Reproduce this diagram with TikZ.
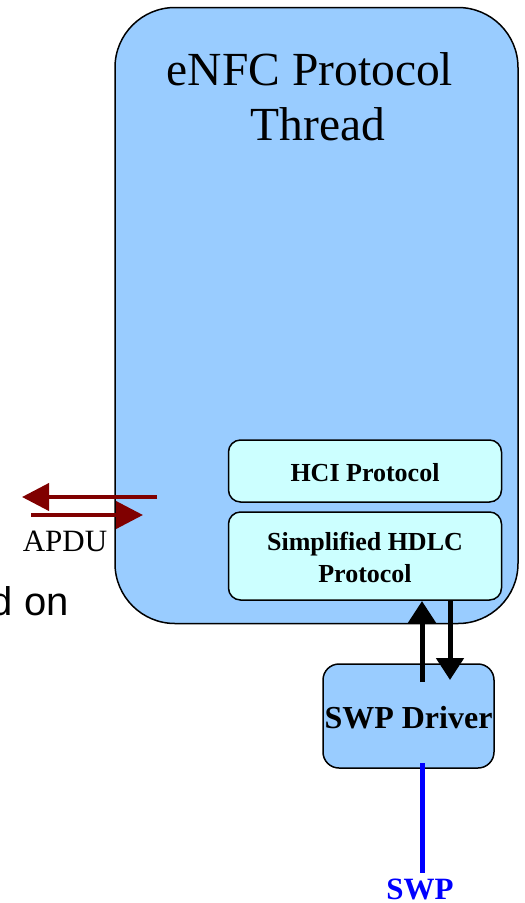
\documentclass[tikz,border=0pt]{standalone}
\usepackage{fontspec}
\setmainfont{Liberation Serif}
\newfontfamily\arialf{Liberation Sans}
\usetikzlibrary{arrows.meta}
\definecolor{boxblue}{HTML}{99CCFF}
\definecolor{boxcyan}{HTML}{CCFFFF}
\definecolor{apdured}{HTML}{800000}
\begin{document}
\begin{tikzpicture}[x=1pt,y=-1pt,
  bigbox/.style={draw=black, line width=1.5pt, fill=boxblue, rounded corners=60pt, inner sep=0pt},
  protobox/.style={draw=black, line width=1.5pt, fill=boxcyan, rounded corners=12pt, inner sep=0pt, minimum width=273pt, align=center, font=\fontsize{26}{32}\selectfont\bfseries},
  drvbox/.style={draw=black, line width=1.5pt, fill=boxblue, rounded corners=16pt, inner sep=0pt, minimum width=171pt, minimum height=104pt, font=\fontsize{32}{36}\selectfont\bfseries},
  redarrow/.style={draw=apdured, line width=4pt, -{Triangle[length=27pt,width=27pt]}},
  blackarrow/.style={draw=black, line width=5pt, -{Triangle[length=22pt,width=27pt]}},
  label/.style={inner sep=0pt, anchor=base}
]
\useasboundingbox (0,0) rectangle (525,903);
\node[bigbox, minimum width=403pt, minimum height=616pt] (thread) at (316.5,315.5) {};
\node[label, font=\fontsize{47.5}{55}\selectfont] (t1) at (310,85) {eNFC Protocol};
\node[label, font=\fontsize{47.5}{55}\selectfont] (t2) at (318,140) {Thread};
\node[protobox, minimum height=62pt] (hci) at (365,471) {};
\node[label, font=\fontsize{26}{32}\selectfont\bfseries] (hcit) at (365,481) {HCI Protocol};
\node[protobox, minimum height=88pt] (hdlc) at (365,556) {};
\node[label, font=\fontsize{26}{32}\selectfont\bfseries] (hdlc1) at (365,550) {Simplified HDLC};
\node[label, font=\fontsize{26}{32}\selectfont\bfseries] (hdlc2) at (365,582) {Protocol};
\node[drvbox] (drv) at (408.5,716) {};
\node[label, font=\fontsize{32}{36}\selectfont\bfseries] (drvt) at (408.5,728) {SWP Driver};
% black arrows
\coordinate (upS) at (422,682);
\coordinate (upE) at (422,601);
\coordinate (dnS) at (450,601);
\coordinate (dnE) at (450,680);
\draw[blackarrow] (upS) -- (upE);
\draw[blackarrow] (dnS) -- (dnE);
% SWP line
\coordinate (swpS) at (422,763);
\coordinate (swpE) at (422,873);
\draw[draw=blue, line width=5pt] (swpS) -- (swpE);
\node[label, text=blue, font=\fontsize{31}{36}\selectfont\bfseries] (swp) at (420,899) {SWP};
% APDU arrows
\coordinate (a1S) at (157,497);
\coordinate (a1E) at (22,497);
\coordinate (a2S) at (31,515);
\coordinate (a2E) at (143,515);
\draw[redarrow] (a1S) -- (a1E);
\draw[redarrow] (a2S) -- (a2E);
\node[label, font=\fontsize{31}{36}\selectfont] (apdu) at (65,551) {APDU};
\node[inner sep=0pt, anchor=base east, font=\arialf\fontsize{40}{46}\selectfont] (don) at (69,615) {d on};
\end{tikzpicture}
\end{document}
